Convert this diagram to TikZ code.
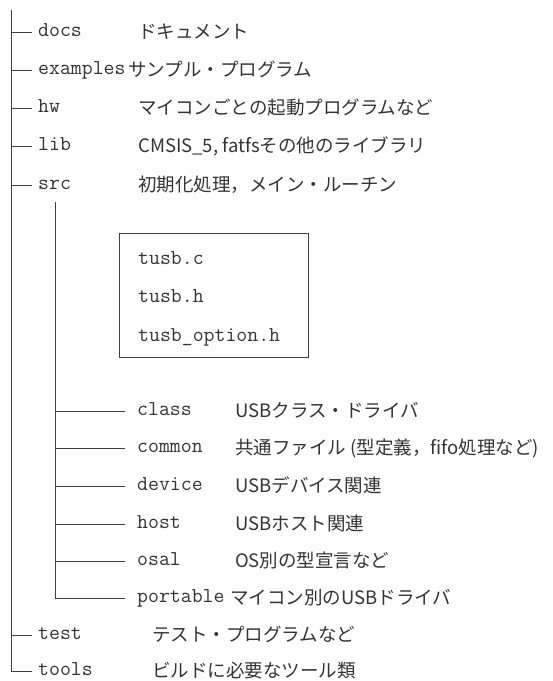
\documentclass[tikz,border=0pt]{standalone}
\usepackage{fontspec}
\setmainfont{Noto Sans CJK JP}
\newfontfamily\jpfnt{Noto Sans CJK JP}
\begin{document}
\begin{tikzpicture}[x=1pt,y=-1pt,
  tline/.style={draw=black!75,line width=1pt},
  topname/.style={anchor=base west,inner xsep=6pt,inner ysep=0pt,font=\ttfamily\fontsize{21.2}{22}\selectfont,text=black!80},
  subname/.style={anchor=base west,inner xsep=12pt,inner ysep=0pt,font=\ttfamily\fontsize{21.2}{22}\selectfont,text=black!80},
  boxname/.style={anchor=base west,inner sep=0pt,font=\ttfamily\fontsize{21.2}{22}\selectfont,text=black!80},
  desc/.style={anchor=base west,inner sep=0pt,font=\jpfnt\fontsize{18.5}{20}\selectfont,text=black!80},
  filebox/.style={draw=black!75,line width=1pt}]
\useasboundingbox (0,0) rectangle (553,681);
\def\mo{4.6}
% trunk
\coordinate (top) at (11,10);
\coordinate (t1) at (11,32);
\coordinate (t2) at (11,70);
\coordinate (t3) at (11,108);
\coordinate (t4) at (11,146);
\coordinate (t5) at (11,185);
\coordinate (t6) at (11,635);
\coordinate (t7) at (11,671);
\node[topname] (docs) at (32,32+\mo) {docs};
\node[topname] (examples) at (32,70+\mo) {examples};
\node[topname] (hw) at (32,108+\mo) {hw};
\node[topname] (lib) at (32,146+\mo) {lib};
\node[topname] (src) at (32,185+\mo) {src};
\node[topname] (test) at (32,635+\mo) {test};
\node[topname] (tools) at (32,671+\mo) {tools};
\node[desc] (d1) at (138,32+6.8) {ドキュメント};
\node[desc] (d2) at (128,70+6.8) {サンプル・プログラム};
\node[desc] (d3) at (138,108+6.8) {マイコンごとの起動プログラムなど};
\node[desc] (d4) at (138,146+6.8) {CMSIS\_5, fatfsその他のライブラリ};
\node[desc] (d5) at (138,185+6.8) {初期化処理，メイン・ルーチン};
\node[desc] (d6) at (152,635+6.8) {テスト・プログラムなど};
\node[desc] (d7) at (152,671+6.8) {ビルドに必要なツール類};
\draw[tline] (top) -- (t7) -- (t7 -| tools.west);
\foreach \n/\c in {docs/t1,examples/t2,hw/t3,lib/t4,src/t5,test/t6}
  \draw[tline] (\c) -- (\c -| \n.west);
% src subtree
\coordinate (stop) at (55,202);
\coordinate (s1) at (55,411);
\coordinate (s2) at (55,448);
\coordinate (s3) at (55,486);
\coordinate (s4) at (55,524);
\coordinate (s5) at (55,561);
\coordinate (s6) at (55,598);
\node[filebox,minimum width=189pt,minimum height=124pt,anchor=north west,inner sep=0pt] (box) at (119,233) {};
\node[boxname] (f1) at (138,260+\mo) {tusb.c};
\node[boxname] (f2) at (138,298+\mo) {tusb.h};
\node[boxname] (f3) at (138,337+\mo) {tusb\_option.h};
\node[subname] (class) at (125,411+\mo) {class};
\node[subname] (common) at (125,448+\mo) {common};
\node[subname] (device) at (125,486+\mo) {device};
\node[subname] (host) at (125,524+\mo) {host};
\node[subname] (osal) at (125,561+\mo) {osal};
\node[subname] (portable) at (125,598+\mo) {portable};
\node[desc] (e1) at (235,411+6.8) {USBクラス・ドライバ};
\node[desc] (e2) at (235,448+6.8) {共通ファイル (型定義，fifo処理など)};
\node[desc] (e3) at (235,486+6.8) {USBデバイス関連};
\node[desc] (e4) at (235,524+6.8) {USBホスト関連};
\node[desc] (e5) at (235,561+6.8) {OS別の型宣言など};
\node[desc] (e6) at (230,598+6.8) {マイコン別のUSBドライバ};
\draw[tline] (stop) -- (s6) -- (s6 -| portable.west);
\foreach \n/\c in {class/s1,common/s2,device/s3,host/s4,osal/s5}
  \draw[tline] (\c) -- (\c -| \n.west);
\end{tikzpicture}
\end{document}
